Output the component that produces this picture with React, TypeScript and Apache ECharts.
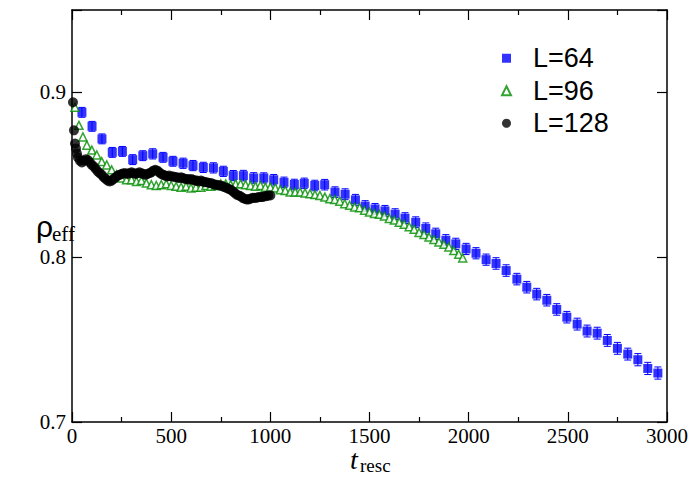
import React, { useEffect, useRef } from "react";
import * as echarts from "echarts";

// L=64 (blue squares)
const blueT = [50,101,151,203,254,306,357,407,459,509,560,610,662,713,763,813,864,916,967,1017,1069,1121,1171,1224,1274,1326,1377,1429,1478,1528,1578,1629,1679,1733,1784,1834,1885,1935,1987,2037,2088,2138,2189,2243,2293,2343,2394,2444,2495,2547,2597,2648,2699,2750,2802,2853,2903,2954];
const blueRho = [0.8879,0.8794,0.8718,0.8636,0.8642,0.8592,0.8616,0.8627,0.8606,0.8582,0.8570,0.8556,0.8545,0.8542,0.8521,0.8495,0.8495,0.8481,0.8481,0.8470,0.8454,0.8441,0.8448,0.8435,0.8440,0.8395,0.8382,0.8348,0.8310,0.8293,0.8281,0.8261,0.8237,0.8212,0.8174,0.8142,0.8103,0.8081,0.8050,0.8024,0.7985,0.7962,0.7919,0.7867,0.7818,0.7776,0.7739,0.7683,0.7636,0.7594,0.7552,0.7539,0.7495,0.7447,0.7412,0.7378,0.7325,0.7297];
const blueErr = [0.0030,0.0030,0.0030,0.0030,0.0030,0.0030,0.0030,0.0031,0.0030,0.0030,0.0031,0.0031,0.0031,0.0031,0.0031,0.0031,0.0032,0.0032,0.0031,0.0032,0.0032,0.0032,0.0032,0.0032,0.0032,0.0032,0.0033,0.0033,0.0033,0.0033,0.0033,0.0033,0.0033,0.0033,0.0034,0.0034,0.0034,0.0034,0.0034,0.0034,0.0034,0.0035,0.0035,0.0035,0.0035,0.0035,0.0035,0.0035,0.0035,0.0036,0.0036,0.0036,0.0036,0.0036,0.0036,0.0037,0.0037,0.0037];

// L=96 (green open triangles)
const greenT = [15,35,55,75,100,125,150,175,200,225,250,275,300,325,350,375,400,425,450,475,500,525,550,575,600,625,650,675,700,725,750,775,800,825,850,875,900,925,950,975,1000,1025,1050,1075,1100,1125,1150,1175,1200,1225,1250,1275,1300,1325,1350,1375,1400,1425,1450,1475,1500,1525,1550,1575,1600,1625,1650,1675,1700,1725,1750,1775,1800,1825,1850,1875,1900,1925,1950,1970];
const greenRho = [0.8910,0.8800,0.8730,0.8680,0.8650,0.8620,0.8580,0.8560,0.8530,0.8500,0.8480,0.8470,0.8470,0.8460,0.8465,0.8450,0.8440,0.8435,0.8440,0.8445,0.8435,0.8430,0.8425,0.8430,0.8420,0.8425,0.8425,0.8435,0.8430,0.8435,0.8445,0.8445,0.8440,0.8445,0.8445,0.8440,0.8435,0.8430,0.8435,0.8425,0.8425,0.8420,0.8410,0.8405,0.8395,0.8395,0.8395,0.8390,0.8385,0.8380,0.8375,0.8365,0.8355,0.8350,0.8340,0.8325,0.8315,0.8305,0.8300,0.8285,0.8275,0.8265,0.8260,0.8250,0.8235,0.8225,0.8212,0.8200,0.8185,0.8170,0.8150,0.8138,0.8122,0.8108,0.8092,0.8078,0.8062,0.8040,0.8018,0.7995];

// L=128 (black filled circles)
const blackT = [5,10,15,20,25,30,40,50,60,70,80,90,100,110,120,130,140,150,160,170,180,190,200,210,220,230,240,250,260,270,280,290,300,310,320,330,340,350,360,370,380,390,400,410,420,430,440,450,460,470,480,490,500,510,520,530,540,550,560,570,580,590,600,610,620,630,640,650,660,670,680,690,700,710,720,730,740,750,760,770,780,790,800,810,820,830,840,850,860,870,880,890,900,910,920,930,940,950,960,970,980,990,1000];
const blackRho = [0.8940,0.8770,0.8690,0.8660,0.8630,0.8605,0.8585,0.8575,0.8585,0.8595,0.8590,0.8575,0.8560,0.8550,0.8535,0.8520,0.8510,0.8500,0.8485,0.8475,0.8465,0.8460,0.8465,0.8475,0.8485,0.8495,0.8500,0.8505,0.8510,0.8510,0.8505,0.8510,0.8515,0.8510,0.8505,0.8510,0.8515,0.8510,0.8505,0.8500,0.8505,0.8510,0.8515,0.8525,0.8530,0.8525,0.8515,0.8505,0.8500,0.8495,0.8490,0.8495,0.8490,0.8490,0.8485,0.8485,0.8480,0.8485,0.8480,0.8475,0.8475,0.8470,0.8475,0.8470,0.8465,0.8465,0.8460,0.8465,0.8460,0.8455,0.8455,0.8450,0.8450,0.8445,0.8440,0.8440,0.8435,0.8435,0.8430,0.8425,0.8420,0.8415,0.8410,0.8400,0.8390,0.8380,0.8375,0.8370,0.8360,0.8355,0.8350,0.8350,0.8355,0.8360,0.8360,0.8360,0.8365,0.8365,0.8365,0.8370,0.8370,0.8375,0.8375];

const seriesNames = ["L=64", "L=96", "L=128"];
const xTickLabels = [0, 500, 1000, 1500, 2000, 2500, 3000];
const yTickLabels = [0.7, 0.8, 0.9];
const xTicks = { min: 0, max: 3000, interval: 500 };
const yTicks = { min: 0.7, max: 0.95, interval: 0.1 };

const BLUE = "#0000ff";
const GREEN = "#008c00";
const SERIF = "Liberation Serif";
const SANS = "Liberation Sans";

export default function App() {
  const ref = useRef<HTMLDivElement>(null);
  useEffect(() => {
    if (!ref.current) return;
    const chart = echarts.init(ref.current, null, { renderer: "svg" });
    const axisLine = { show: true, onZero: false, lineStyle: { color: "#000", width: 1.5 } };
    const tick = { show: true, inside: true, length: 10, lineStyle: { color: "#000", width: 1.2 } };
    const minor = { show: true, splitNumber: 2, length: 5, lineStyle: { color: "#000", width: 1.2 } };
    const blueData = blueT.map((t, i) => [t, blueRho[i]]);
    const errData = blueT.map((t, i) => [t, blueRho[i] - blueErr[i], blueRho[i] + blueErr[i]]);
    chart.setOption({
      animation: false,
      backgroundColor: "#fff",
      grid: { left: 72, right: 24, top: 10, bottom: 57 },
      xAxis: [
        { type: "value", position: "bottom", ...xTicks, axisLine: { ...axisLine }, axisTick: { ...tick }, minorTick: { ...minor },
          splitLine: { show: false }, axisLabel: { show: false } },
        { type: "value", position: "top", ...xTicks, axisLine: { ...axisLine }, axisTick: { ...tick }, minorTick: { ...minor },
          splitLine: { show: false }, axisLabel: { show: false } },
      ],
      yAxis: [
        { type: "value", position: "left", ...yTicks, axisLine: { ...axisLine }, axisTick: { ...tick },
          splitLine: { show: false }, axisLabel: { show: false } },
        { type: "value", position: "right", ...yTicks, axisLine: { ...axisLine }, axisTick: { ...tick },
          splitLine: { show: false }, axisLabel: { show: false } },
      ],
      legend: {
        data: seriesNames.map((n) => ({ name: n })),
        orient: "vertical",
        left: 501,
        top: 42,
        padding: 0,
        itemGap: 0,
        itemWidth: 9,
        itemHeight: 9,
        textStyle: { fontFamily: SANS, fontSize: 27, color: "#000", lineHeight: 32.5, padding: [0, 0, 0, 17] },
      },
      series: [
        {
          type: "custom",
          name: "err64",
          data: errData,
          z: 1,
          renderItem: (params: any, api: any) => {
            const x = api.value(0);
            const lo = api.coord([x, api.value(1)]);
            const hi = api.coord([x, api.value(2)]);
            const w = 3.5;
            const style = { stroke: BLUE, lineWidth: 1 };
            return {
              type: "group",
              children: [
                { type: "line", shape: { x1: lo[0], y1: lo[1], x2: hi[0], y2: hi[1] }, style },
                { type: "line", shape: { x1: lo[0] - w, y1: lo[1], x2: lo[0] + w, y2: lo[1] }, style },
                { type: "line", shape: { x1: hi[0] - w, y1: hi[1], x2: hi[0] + w, y2: hi[1] }, style },
              ],
            };
          },
        },
        {
          type: "scatter",
          name: "L=64",
          data: blueData,
          symbol: "rect",
          symbolSize: [9, 9],
          itemStyle: { color: BLUE },
          z: 2,
        },
        {
          type: "scatter",
          name: "L=96",
          data: greenT.map((t, i) => [t, greenRho[i]]),
          symbol: "triangle",
          symbolSize: 8,
          itemStyle: { color: "#fff", borderColor: GREEN, borderWidth: 1.5 },
          z: 3,
        },
        {
          type: "scatter",
          name: "L=128",
          data: blackT.map((t, i) => [t, blackRho[i]]),
          symbol: "circle",
          symbolSize: 10,
          itemStyle: { color: "#000" },
          z: 4,
        },
      ],
    });

    // Tick labels placed through the axes' own scales
    const axisY = chart.convertToPixel({ yAxisIndex: 0 }, yTicks.min) as number;
    const axisX = chart.convertToPixel({ xAxisIndex: 0 }, xTicks.min) as number;
    const labelFont = `21px ${SERIF}`;
    const tickTexts: any[] = [];
    xTickLabels.forEach((v) => {
      const px = chart.convertToPixel({ xAxisIndex: 0 }, v) as number;
      tickTexts.push({
        type: "text", x: px, y: axisY + 3, z: 10,
        style: { text: String(v), font: labelFont, fill: "#000", align: "center", verticalAlign: "top" },
      });
    });
    yTickLabels.forEach((v) => {
      const py = chart.convertToPixel({ yAxisIndex: 0 }, v) as number;
      tickTexts.push({
        type: "text", x: axisX - 6, y: py, z: 10,
        style: { text: v.toFixed(1), font: labelFont, fill: "#000", align: "right", verticalAlign: "middle" },
      });
    });
    chart.setOption({
      graphic: [
        { type: "text", left: 36, top: 211, style: { text: "\u03c1", font: `30px ${SANS}`, fill: "#000" } },
        { type: "text", left: 52, top: 223, style: { text: "eff", font: `21px ${SERIF}`, fill: "#000" } },
        { type: "text", left: 350, top: 445, style: { text: "t", font: `italic 28px ${SERIF}`, fill: "#000" } },
        { type: "text", left: 360, top: 456, style: { text: "resc", font: `19px ${SERIF}`, fill: "#000" } },
        ...tickTexts,
      ],
    });
    return () => chart.dispose();
  }, []);
  return <div ref={ref} style={{ position: "fixed", left: 0, top: 0, width: 691, height: 479, background: "#fff" }} />;
}
